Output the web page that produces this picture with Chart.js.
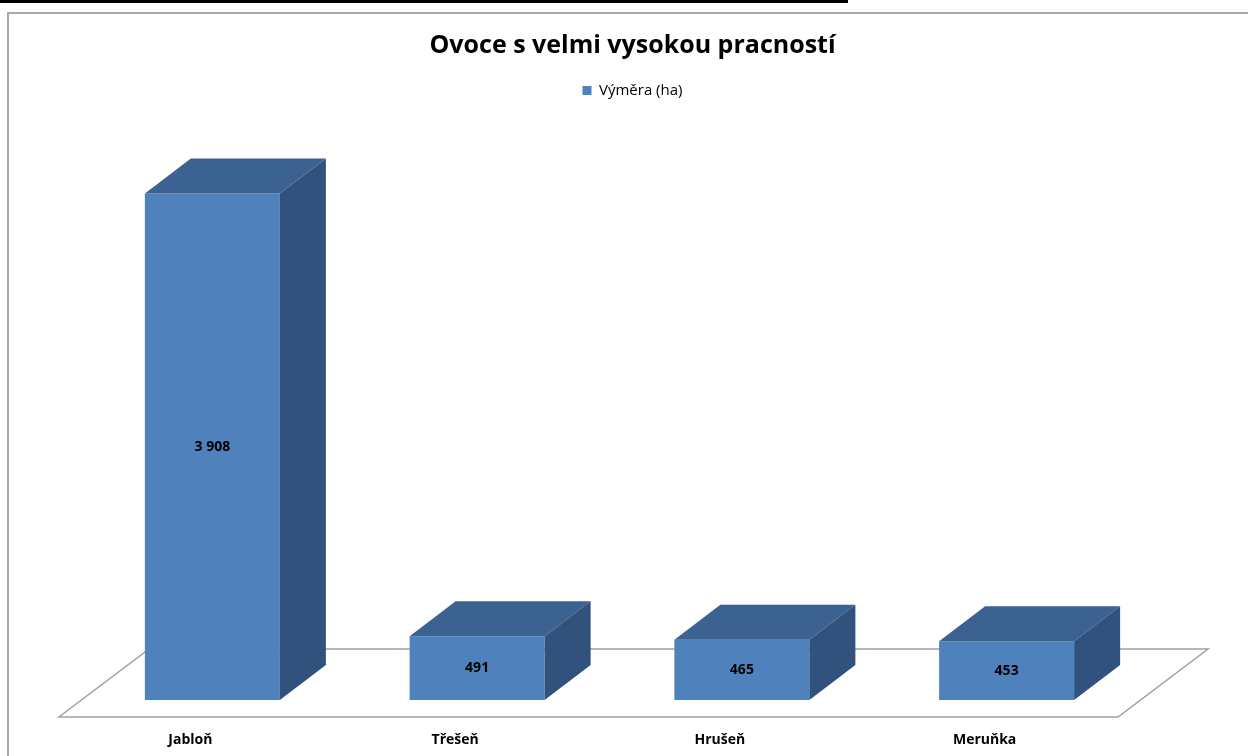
<!DOCTYPE html>
<html>
<head>
<meta charset="utf-8">
<script src="https://cdn.jsdelivr.net/npm/chart.js@4/dist/chart.umd.min.js"></script>
<style>
    html, body { margin: 0; padding: 0; background: #fff; overflow: hidden; }
    #wrap { position: relative; width: 1248px; height: 756px; }
    #topline { position: absolute; left: 0; top: 0; width: 848px; height: 3px; background: #000; }
    #frame { position: absolute; left: 7px; top: 12px; width: 1300px; height: 800px;
             border-left: 2px solid #a8a8a8; border-top: 2px solid #a8a8a8; }
    canvas { position: absolute; left: 0; top: 0; }
</style>
</head>
<body>
<div id="wrap">
    <div id="topline"></div>
    <div id="frame"></div>
    <canvas id="chart" width="1248" height="756"></canvas>
</div>
<script>
const categories = ['Jabloň', 'Třešeň', 'Hrušeň', 'Meruňka'];
const areaHa = [3908, 491, 465, 453];
const seriesName = 'Výměra (ha)';
const chartTitle = 'Ovoce s velmi vysokou pracností';
const yMax = 4567;

const FONT = '"Open Sans", Lato, sans-serif';
const DEPTH_X = 46, DEPTH_Y = -35;

function fmt(v) {
    return String(v).replace(/\B(?=(\d{3})+(?!\d))/g, ' ');
}

// fake 3D: floor plate, then top + side faces and value labels on each bar
const box3d = {
    id: 'box3d',
    beforeDatasetsDraw(chart) {
        const ctx = chart.ctx, a = chart.chartArea;
        const base = chart.scales.y.getPixelForValue(0);
        ctx.save();
        ctx.strokeStyle = '#a0a0a0';
        ctx.lineWidth = 1.5;
        ctx.beginPath();
        ctx.moveTo(a.left - 21, base + 17);
        ctx.lineTo(a.right - 21, base + 17);
        ctx.lineTo(a.right + 69, base - 51);
        ctx.lineTo(a.left + 69, base - 51);
        ctx.closePath();
        ctx.stroke();
        ctx.restore();
    },
    afterDatasetsDraw(chart) {
        const ctx = chart.ctx;
        const meta = chart.getDatasetMeta(0);
        ctx.save();
        meta.data.forEach((bar, i) => {
            const p = bar.getProps(['x', 'y', 'base', 'width'], true);
            const l = p.x - p.width / 2, r = p.x + p.width / 2;
            ctx.fillStyle = '#3c6291';
            ctx.beginPath();
            ctx.moveTo(l, p.y);
            ctx.lineTo(l + DEPTH_X, p.y + DEPTH_Y);
            ctx.lineTo(r + DEPTH_X, p.y + DEPTH_Y);
            ctx.lineTo(r, p.y);
            ctx.closePath();
            ctx.fill();
            ctx.fillStyle = '#31527c';
            ctx.beginPath();
            ctx.moveTo(r, p.y);
            ctx.lineTo(r + DEPTH_X, p.y + DEPTH_Y);
            ctx.lineTo(r + DEPTH_X, p.base + DEPTH_Y);
            ctx.lineTo(r, p.base);
            ctx.closePath();
            ctx.fill();

            ctx.fillStyle = '#000';
            ctx.font = 'bold 14px ' + FONT;
            ctx.textAlign = 'center';
            ctx.textBaseline = 'middle';
            ctx.fillText(fmt(areaHa[i]), p.x, (p.y + p.base) / 2);
        });
        ctx.restore();
    }
};

const ctx = document.getElementById('chart').getContext('2d');
new Chart(ctx, {
    type: 'bar',
    data: {
        labels: categories,
        datasets: [{
            label: seriesName,
            data: areaHa,
            backgroundColor: '#4f81bd',
            barPercentage: 0.51,
            categoryPercentage: 1.0
        }]
    },
    options: {
        responsive: false,
        animation: false,
        layout: {
            padding: { left: 80, right: 63, top: 31, bottom: 0 }
        },
        plugins: {
            title: {
                display: true,
                text: chartTitle,
                color: '#000',
                font: { family: FONT, size: 25, weight: 'bold' },
                padding: { top: 0, bottom: 12 }
            },
            legend: {
                position: 'top',
                labels: {
                    boxWidth: 9,
                    boxHeight: 9,
                    color: '#000',
                    font: { family: FONT, size: 15 },
                    padding: 10
                }
            },
            tooltip: { enabled: false }
        },
        scales: {
            x: {
                grid: { display: false, drawTicks: false },
                border: { display: false },
                ticks: {
                    color: '#000',
                    font: { family: FONT, size: 14, weight: 'bold' },
                    labelOffset: -22,
                    padding: 32
                },
                afterFit(scale) { scale.height = 56; }
            },
            y: {
                position: 'right',
                min: 0,
                max: yMax,
                grid: { display: false, drawTicks: false },
                border: { display: false },
                ticks: { display: false },
                afterFit(scale) { scale.width = 46; }
            }
        }
    },
    plugins: [box3d]
});
</script>
</body>
</html>
